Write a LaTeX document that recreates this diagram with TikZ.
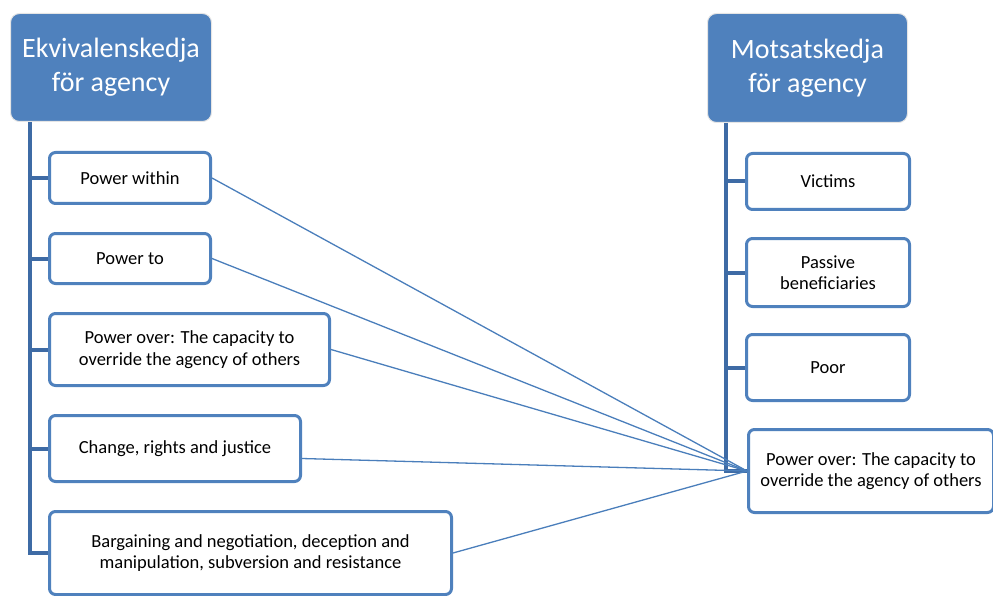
\documentclass[tikz,border=0pt]{standalone}
\usepackage{fontspec}
\setmainfont{Carlito}
\usetikzlibrary{positioning}
\definecolor{boxblue}{HTML}{4F81BD}
\definecolor{trunkblue}{HTML}{3E6BA5}
\definecolor{lineblue}{HTML}{4A7EBB}

\begin{document}
\begin{tikzpicture}[x=1pt,y=-1pt,
  head/.style={fill=boxblue,draw=gray!20,line width=1pt,rounded corners=9pt,text=white,align=center,font=\fontsize{28}{34}\selectfont,inner sep=0pt},
  item/.style={draw=boxblue,line width=3pt,fill=white,rounded corners=6pt,align=center,font=\fontsize{18.5}{21.5}\selectfont,inner sep=0pt},
  trunk/.style={draw=trunkblue,line width=4pt},
  link/.style={draw=lineblue,line width=1.3pt}]
\useasboundingbox (0,0) rectangle (993,596);

%draw headers
\node[head,minimum width=201,minimum height=108] (ekv) at (111,67.5) {Ekvivalenskedja\\för agency};
\node[head,minimum width=200,minimum height=109] (mot) at (807.5,68) {Motsatskedja\\för agency};

%draw left chain
\node[item,minimum width=161,minimum height=51] (pw) at (130,178) {Power within};
\node[item,minimum width=161,minimum height=50] (pt) at (130,258.5) {Power to};
\node[item,minimum width=280,minimum height=72] (po) at (189.5,349.5) {Power over: The capacity to\\override the agency of others};
\node[item,minimum width=251,minimum height=66] (crj) at (175,448.5) {Change, rights and justice};
\node[item,minimum width=402,minimum height=83] (bar) at (250.5,553) {Bargaining and negotiation, deception and\\manipulation, subversion and resistance};

%draw right chain
\node[item,minimum width=163,minimum height=56] (vic) at (828,181.5) {Victims};
\node[item,minimum width=163,minimum height=68] (pas) at (828,272.5) {Passive\\beneficiaries};
\node[item,minimum width=163,minimum height=66] (poor) at (828,367.5) {Poor};
\node[item,minimum width=245,minimum height=83] (por) at (871,471) {Power over: The capacity to\\override the agency of others};

%draw trunks
\coordinate (ltop) at (30,122);
\coordinate (rtop) at (726,123);
\draw[trunk] (ltop) |- (bar.west);
\foreach \n in {pw,pt,po,crj}{
   \draw[trunk] (ltop |- \n.west) -- (\n.west);
}
\draw[trunk] (rtop) |- (por.west);
\foreach \n in {vic,pas,poor}{
   \draw[trunk] (rtop |- \n.west) -- (\n.west);
}

%draw links
\foreach \n in {pw,pt,po,bar}{
   \draw[link] (\n.east) -- (por.west);
}
\draw[link] ([yshift=-10pt]crj.east) -- (por.west);
\end{tikzpicture}
\end{document}
